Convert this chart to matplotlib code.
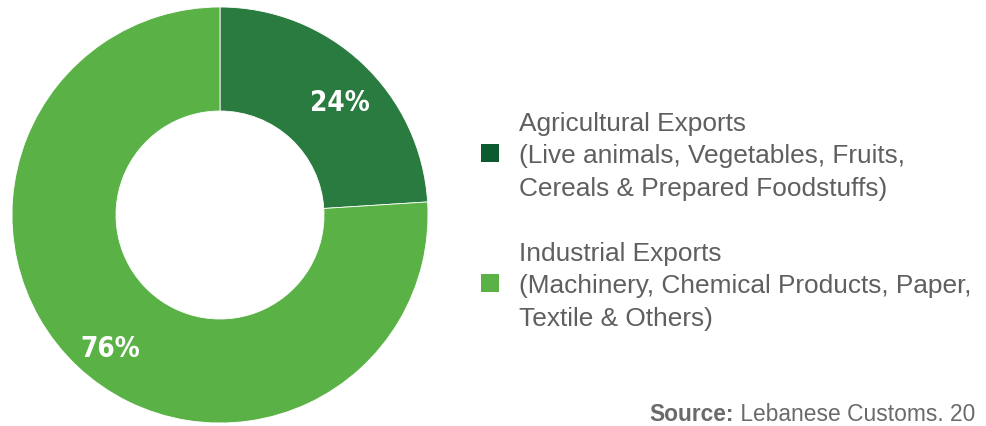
import matplotlib
matplotlib.use("Agg")
import matplotlib.pyplot as plt
from matplotlib.patches import Rectangle

# Datos
categories = ["Agricultural Exports", "Industrial Exports"]
details = [
    ["(Live animals, Vegetables, Fruits,", "Cereals & Prepared Foodstuffs)"],
    ["(Machinery, Chemical Products, Paper,", "Textile & Others)"],
]
shares = [24, 76]
wedge_colors = ["#2a7b3f", "#5ab247"]
legend_colors = ["#0b5a30", "#5ab247"]
source_label = "Source:"
source_text = " Lebanese Customs. 20"

W, H = 986, 427
fig = plt.figure(figsize=(W / 100, H / 100), dpi=100)
fig.patch.set_facecolor("white")


def fx(px):
    return px / W


def fy(py):
    return 1 - py / H


# donut: centro (220, 216), radio 208 px
ax = fig.add_axes([fx(12), fy(424), 416 / W, 416 / H])
wedges, _ = ax.pie(
    shares,
    colors=wedge_colors,
    startangle=90,
    counterclock=False,
    radius=1.0,
    wedgeprops=dict(width=0.5, edgecolor="white", linewidth=0.6),
)
ax.set_xlim(-1, 1)
ax.set_ylim(-1, 1)
ax.set_aspect("equal")
ax.axis("off")

label_pos = [(340, 103), (110, 349)]
for v, (px, py) in zip(shares, label_pos):
    fig.text(fx(px), fy(py), f"{v}%", color="white", fontsize=20, fontweight="bold",
             family="DejaVu Sans", fontstretch="condensed", ha="center", va="center")

# leyenda
gray = "#5f5f5f"
sans = ["Liberation Sans", "DejaVu Sans"]
title_y = [124, 254]
sq_y = [154, 284]
for i in range(len(categories)):
    lines = [categories[i]] + details[i]
    for j, line in enumerate(lines):
        fig.text(fx(519), fy(title_y[i] + 32.5 * j), line, color=gray, fontsize=18.9,
                 family=sans, ha="left", va="center")
    fig.patches.append(Rectangle((fx(481), fy(sq_y[i] + 9)), 18 / W, 18 / H,
                                 transform=fig.transFigure, facecolor=legend_colors[i],
                                 edgecolor="none"))

# fuente
t = fig.text(fx(975), fy(415), source_text, color="#6a6a6a", fontsize=16.4,
             family=sans, ha="right", va="center")
fig.canvas.draw()
bb = t.get_window_extent()
fig.text(bb.x0 / W, fy(415), source_label, color="#6a6a6a", fontsize=16.4,
         fontweight="bold", family=sans, ha="right", va="center")

fig.savefig("out.png", dpi=100, facecolor="white")
